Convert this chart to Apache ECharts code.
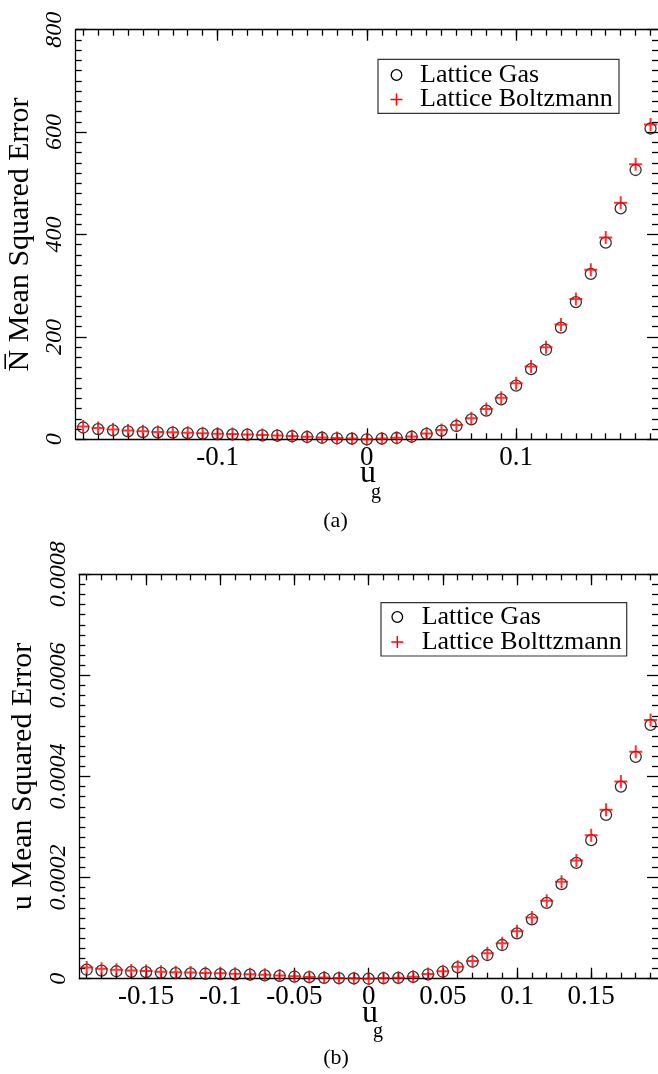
<!DOCTYPE html>
<html><head><meta charset="utf-8">
<script src="https://cdn.jsdelivr.net/npm/echarts@6/dist/echarts.min.js"></script>
<style>html,body{margin:0;padding:0;background:#fff}#c{width:658px;height:1074px}</style>
</head><body><div id="c"></div>
<script>
// ---- data ----
const ug = [-0.19,-0.18,-0.17,-0.16,-0.15,-0.14,-0.13,-0.12,-0.11,-0.10,-0.09,-0.08,-0.07,-0.06,-0.05,-0.04,-0.03,-0.02,-0.01,0,
  0.01,0.02,0.03,0.04,0.05,0.06,0.07,0.08,0.09,0.10,0.11,0.12,0.13,0.14,0.15,0.16,0.17,0.18,0.19];
const nbarLatticeGas = [23,20,17.5,15.5,14,13.5,13,12,11,10,9.5,9,7.5,7,6,4.5,3,2,1.3,0,
  1.5,2.5,5,10.5,17,26,39,56,78,105,137,175,218,268,323,384,451,526,607];
const nbarLatticeBoltzmann = [25,22,19,17,15.5,14.5,14,13,12,11,10.5,9.5,8.5,7.5,6.5,5,3.5,2.5,1.5,0,
  1.5,3,5.5,11.5,18,28,41,59,81,109.6,142,180,224,274,331,394,462,537,615];
const uLatticeGas = [1.78e-5,1.6e-5,1.47e-5,1.35e-5,1.29e-5,1.16e-5,1.1e-5,1.04e-5,9.8e-6,9.2e-6,8.6e-6,8e-6,6.7e-6,5.5e-6,4.3e-6,3.1e-6,1.8e-6,1.2e-6,6e-7,0,
  1.2e-6,1.5e-6,3.5e-6,8.7e-6,1.38e-5,2.25e-5,3.36e-5,4.69e-5,6.67e-5,8.98e-5,1.175e-4,1.50e-4,1.87e-4,2.29e-4,2.74e-4,3.24e-4,3.80e-4,4.39e-4,5.02e-4];
const uLatticeBoltzmann = [2.2e-5,1.95e-5,1.78e-5,1.62e-5,1.52e-5,1.38e-5,1.3e-5,1.22e-5,1.14e-5,1.06e-5,9.8e-6,9e-6,7.6e-6,6.3e-6,5e-6,3.6e-6,2.2e-6,1.4e-6,8e-7,0,
  1.4e-6,1.8e-6,4e-6,9.2e-6,1.45e-5,2.35e-5,3.5e-5,5.02e-5,7.0e-5,9.38e-5,1.21e-4,1.54e-4,1.92e-4,2.34e-4,2.84e-4,3.34e-4,3.90e-4,4.49e-4,5.12e-4];
const xMajorTop = [-0.1,0,0.1];
const xMajorBottom = [-0.15,-0.1,-0.05,0,0.05,0.1,0.15];
const xMinor = [-0.19,-0.18,-0.17,-0.16,-0.15,-0.14,-0.13,-0.12,-0.11,-0.10,-0.09,-0.08,-0.07,-0.06,-0.05,-0.04,-0.03,-0.02,-0.01,0,
  0.01,0.02,0.03,0.04,0.05,0.06,0.07,0.08,0.09,0.10,0.11,0.12,0.13,0.14,0.15,0.16,0.17,0.18,0.19];
const legendTop = ['Lattice Gas','Lattice Boltzmann'];
const legendBottom = ['Lattice Gas','Lattice Bolttzmann'];

const FONT = '"Liberation Serif","Times New Roman",serif';
const black = '#000';
const axisLineStyle = {color: black, width: 1.3};

function xAxesFor(gridIndex, majors, showLabels) {
  const base = {type:'value', gridIndex, min:-0.195, max:0.195, splitLine:{show:false}};
  const mk = (pos, vals, len, labels, line) => Object.assign({}, base, {
    position: pos,
    axisLine: {show: line, onZero: false, lineStyle: axisLineStyle},
    axisTick: {show: true, inside: true, length: len, customValues: vals, lineStyle: axisLineStyle},
    axisLabel: labels ? {show: true, customValues: majors, margin: 5, color: black, fontSize: 27, fontFamily: FONT,
      formatter: v => String(Math.round(v*100)/100)} : {show: false}
  });
  return [
    mk('bottom', majors, 11, showLabels, true),
    mk('bottom', xMinor, 6, false, false),
    mk('top', majors, 11, false, true),
    mk('top', xMinor, 6, false, false)
  ];
}
function yAxesFor(gridIndex, max, interval, name, gap, fmt) {
  const base = {type:'value', gridIndex, min:0, max, interval, splitLine:{show:false}, minorSplitLine:{show:false},
    axisTick:{show:true, inside:true, length:11, lineStyle:axisLineStyle},
    minorTick:{show:true, splitNumber:10, length:6, lineStyle:axisLineStyle}};
  return [
    Object.assign({}, base, {position:'left', axisLine:{show:true, onZero:false, lineStyle:axisLineStyle},
      axisLabel:{show:true, rotate:90, margin:9, fontStyle:'italic', fontSize:24, fontFamily:FONT, color:black, formatter: fmt},
      name, nameLocation:'middle', nameGap:gap, nameRotate:90,
      nameTextStyle:{fontSize:30, fontFamily:FONT, color:black}}),
    Object.assign({}, base, {position:'right', axisLine:{show:false, onZero:false}, axisLabel:{show:false}})
  ];
}
function pairs(xs, ys){ return xs.map((x,i)=>[x, ys[i]]); }
const crossPath = 'path://M6,0L6,12M0,6L12,6';
function seriesFor(xi, yi, gas, boltz, names) {
  return [
    {type:'scatter', name:names[0], xAxisIndex:xi, yAxisIndex:yi, data:pairs(ug, gas), symbol:'circle', symbolSize:11,
      itemStyle:{color:'rgba(0,0,0,0)', borderColor:black, borderWidth:1.3}, emphasis:{disabled:true}, z:2},
    {type:'scatter', name:names[1], xAxisIndex:xi, yAxisIndex:yi, data:pairs(ug, boltz), symbol:crossPath, symbolSize:13,
      itemStyle:{color:'none', borderColor:'#ff0000', borderWidth:2}, emphasis:{disabled:true}, z:3}
  ];
}
function legendBox(x, y, w, h, cx, row1, row2, textX, names) {
  return [
    {type:'rect', shape:{x, y, width:w, height:h}, style:{fill:'#fff', stroke:'#333', lineWidth:1.2}, z:10},
    {type:'circle', shape:{cx, cy:row1, r:5.3}, style:{fill:'none', stroke:black, lineWidth:1.3}, z:11},
    {type:'line', shape:{x1:cx, y1:row2-6, x2:cx, y2:row2+6}, style:{stroke:'#ff0000', lineWidth:1.5}, z:11},
    {type:'line', shape:{x1:cx-6, y1:row2, x2:cx+6, y2:row2}, style:{stroke:'#ff0000', lineWidth:1.5}, z:11},
    {type:'text', x:textX, y:row1, style:{text:names[0], font:'26px '+FONT, fill:black, textAlign:'left', textVerticalAlign:'middle'}, z:11},
    {type:'text', x:textX, y:row2, style:{text:names[1], font:'26px '+FONT, fill:black, textAlign:'left', textVerticalAlign:'middle'}, z:11}
  ];
}
function label(x, y, text, size) {
  return {type:'text', x, y, style:{text, font:size+'px '+FONT, fill:black, textAlign:'center', textVerticalAlign:'middle'}, z:5};
}

const option = {
  animation:false,
  backgroundColor:'#fff',
  grid:[
    {left:75.7, top:29.7, width:582.3, height:409.6, containLabel:false, outerBoundsMode:'none'},
    {left:79.3, top:574.3, width:578.7, height:404.4, containLabel:false, outerBoundsMode:'none'}
  ],
  xAxis: [].concat(xAxesFor(0, xMajorTop, true), xAxesFor(1, xMajorBottom, true)),
  yAxis: [].concat(
    yAxesFor(0, 800, 200, 'N\u0305 Mean Squared Error', 34, v => String(v)),
    yAxesFor(1, 0.0008, 0.0002, 'u Mean Squared Error', 38, v => v === 0 ? '0' : v.toFixed(4))
  ),
  series: [].concat(
    seriesFor(0, 0, nbarLatticeGas, nbarLatticeBoltzmann, legendTop),
    seriesFor(4, 2, uLatticeGas, uLatticeBoltzmann, legendBottom)
  ),
  graphic: [].concat(
    legendBox(378, 59.3, 241, 54, 396.5, 75, 99.5, 420, legendTop),
    legendBox(381, 602.7, 245.7, 53.3, 397.3, 617, 642, 421.7, legendBottom),
    [label(368, 474, 'u', 32), label(376, 493, 'g', 20), label(335.5, 521, '(a)', 22),
     label(370, 1014, 'u', 32), label(378, 1032, 'g', 20), label(336, 1058, '(b)', 22)]
  )
};
const chart = echarts.init(document.getElementById('c'), null, {renderer:'canvas'});
chart.setOption(option);
</script>
</body></html>
